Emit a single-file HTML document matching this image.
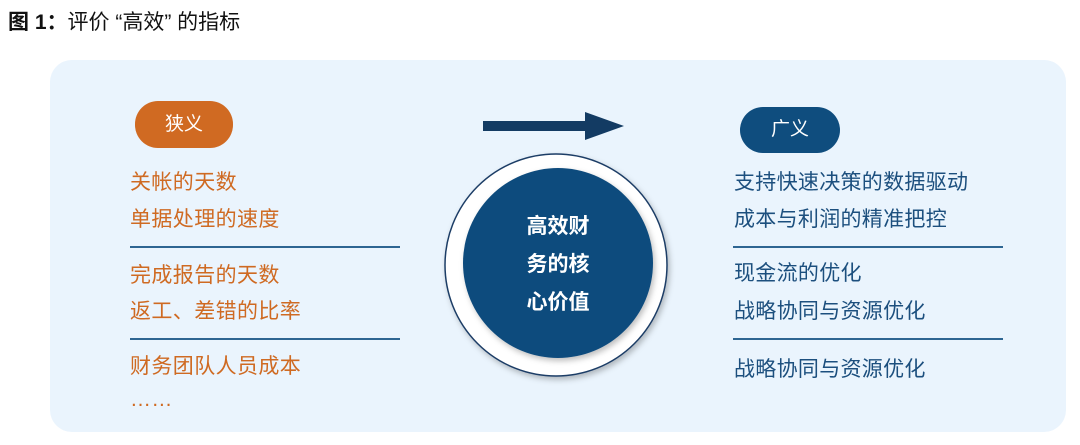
<!DOCTYPE html>
<html><head><meta charset="utf-8"><style>
body{margin:0;width:1080px;height:445px;background:#fff;position:relative;overflow:hidden;font-family:"Liberation Sans","Noto Sans CJK SC",sans-serif}
.t{position:absolute;white-space:nowrap}
.panel{position:absolute;left:50px;top:60px;width:1016px;height:372px;border-radius:22px;background:#eaf4fd}
.o{color:#cf6a22;font-size:21px;letter-spacing:0.4px;line-height:24px}
.b{color:#1c4f7e;font-size:21px;letter-spacing:0.3px;line-height:24px}
.ln{position:absolute;height:2px;background:#2e6592}
.pill{position:absolute;border-radius:23px;color:#fff;font-size:19px;text-align:center}
</style></head><body>
<div class="t" style="left:8px;top:6px;font-size:21px;color:#111"><b>图 1：</b>评价 “高效” 的指标</div>
<div class="panel"></div>
<div class="pill" style="left:135px;top:101px;width:98px;height:47px;line-height:47px;background:#d06a22">狭义</div>
<div class="pill" style="left:740px;top:107px;width:100px;height:46px;line-height:46px;background:#0f4d7e">广义</div>
<div class="t o" style="left:130px;top:171px">关帐的天数</div>
<div class="t o" style="left:130px;top:208px">单据处理的速度</div>
<div class="ln" style="left:130px;top:246px;width:270px"></div>
<div class="t o" style="left:130px;top:264px">完成报告的天数</div>
<div class="t o" style="left:130px;top:300px">返工、差错的比率</div>
<div class="ln" style="left:130px;top:338px;width:270px"></div>
<div class="t o" style="left:130px;top:355px">财务团队人员成本</div>
<div class="t o" style="left:130px;top:388px">……</div>
<div class="t b" style="left:734px;top:171px">支持快速决策的数据驱动</div>
<div class="t b" style="left:734px;top:208px">成本与利润的精准把控</div>
<div class="ln" style="left:733px;top:246px;width:270px"></div>
<div class="t b" style="left:734px;top:262px">现金流的优化</div>
<div class="t b" style="left:734px;top:300px">战略协同与资源优化</div>
<div class="ln" style="left:733px;top:338px;width:270px"></div>
<div class="t b" style="left:734px;top:358px">战略协同与资源优化</div>
<svg style="position:absolute;left:0;top:0" width="1080" height="445">
<defs><filter id="sh" x="-20%" y="-20%" width="140%" height="140%"><feDropShadow dx="2" dy="3" stdDeviation="3" flood-color="#000" flood-opacity="0.25"/></filter></defs>
<polygon points="483,121 585,121 585,112 624,126 585,140 585,131 483,131" fill="#133b63"/>
<circle cx="556" cy="265" r="111" fill="#fff" stroke="#1c3d66" stroke-width="1.5" filter="url(#sh)"/>
<circle cx="558" cy="263" r="95" fill="#0f4b7d" filter="url(#sh)"/>
<g fill="#fff" font-size="21" font-weight="bold" text-anchor="middle" font-family="Liberation Sans,Noto Sans CJK SC,sans-serif">
<text x="558" y="233">高效财</text><text x="558" y="271">务的核</text><text x="558" y="309">心价值</text></g>
</svg>
</body></html>
